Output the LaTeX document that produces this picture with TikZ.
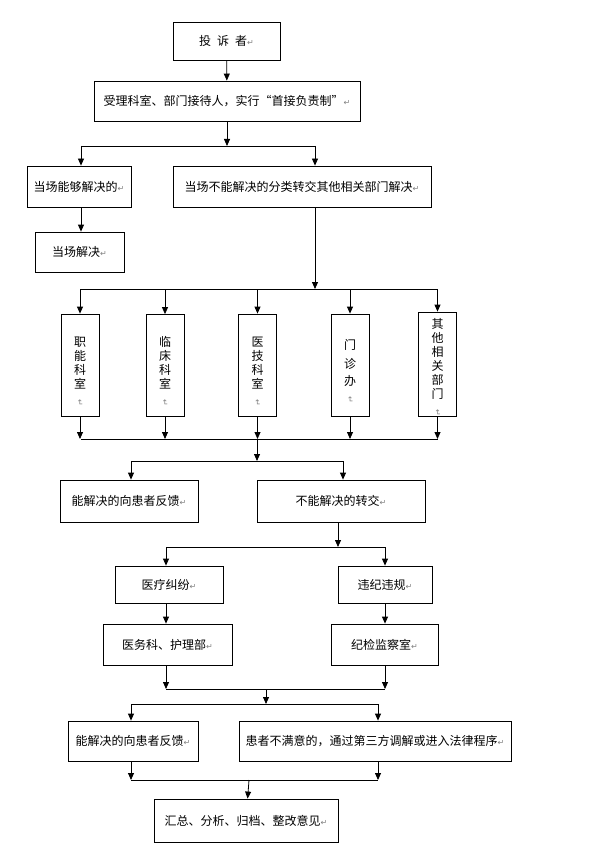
\documentclass[tikz,border=0pt]{standalone}
\usepackage{fontspec}
\usepackage{graphicx}
\usepackage{tikz}
\usetikzlibrary{arrows.meta,positioning}
\setmainfont{Noto Sans CJK SC}
\newfontfamily\symfont{DejaVu Sans}
\newcommand{\parmark}{{\symfont\fontsize{8}{8}\selectfont\textcolor{gray}{↵}}}
\newcommand{\vparmark}{\rotatebox{-90}{\parmark}}
\newcommand{\vstrut}{\rule{0pt}{22pt}}

\begin{document}
\begin{tikzpicture}[
    x=1pt, y=-1pt,
    font=\fontsize{12}{14}\selectfont,
    box/.style={draw, line width=0.8pt, inner sep=0pt, align=center},
    vbox/.style={box, minimum width=38pt, minimum height=102pt},
    line/.style={line width=0.8pt},
    arrow/.style={line width=0.8pt, -{Triangle[width=6pt,length=7pt]}}
  ]
  \useasboundingbox (0,0) rectangle (599,850);

  % Top
  \node[box, minimum width=107pt, minimum height=38pt] (complainant) at (226.5,41) {投\hspace{6pt}诉\hspace{6pt}者\parmark};
  \node[box, minimum width=266pt, minimum height=40pt] (accept) at (227,101) {受理科室、部门接待人，实行“首接负责制”\parmark};

  % First split
  \node[box, minimum width=104pt, minimum height=41pt] (onsite) at (79,186.5) {当场能够解决的\parmark};
  \node[box, minimum width=258pt, minimum height=41pt] (transfer) at (302,186.5) {当场不能解决的分类转交其他相关部门解决\parmark};
  \node[box, minimum width=89pt, minimum height=40pt] (solved) at (79.5,252) {当场解决\parmark};

  % Departments
  \node[vbox] (dept1) at (80,365) {\vstrut 职\\能\\科\\室\\[-3pt]\vparmark};
  \node[vbox] (dept2) at (165,365.5) {\vstrut 临\\床\\科\\室\\[-3pt]\vparmark};
  \node[vbox] (dept3) at (257.5,365) {\vstrut 医\\技\\科\\室\\[-3pt]\vparmark};
  \node[vbox] (dept4) at (350,365) {\vstrut 门\\[5pt]诊\\[3pt]办\\[-3pt]\vparmark};
  \node[vbox, minimum height=104pt] (dept5) at (437.5,364) {\rule{0pt}{16pt}其\\他\\相\\关\\部\\门\\[-3pt]\vparmark};

  % Second split
  \node[box, minimum width=138pt, minimum height=42pt] (feedbackA) at (129,501) {能解决的向患者反馈\parmark};
  \node[box, minimum width=168pt, minimum height=42pt] (notsolved) at (341,501) {不能解决的转交\parmark};
  \node[box, minimum width=108pt, minimum height=37pt] (dispute) at (169,584.5) {医疗纠纷\parmark};
  \node[box, minimum width=94pt, minimum height=37pt] (violation) at (385,584.5) {违纪违规\parmark};
  \node[box, minimum width=129pt, minimum height=41pt] (medoffice) at (167.5,644.5) {医务科、护理部\parmark};
  \node[box, minimum width=107pt, minimum height=41pt] (inspect) at (384.5,644.5) {纪检监察室\parmark};

  % Bottom
  \node[box, minimum width=130pt, minimum height=40pt] (feedbackB) at (133,741) {能解决的向患者反馈\parmark};
  \node[box, minimum width=272pt, minimum height=40pt] (unsatisfied) at (375,741) {患者不满意的，通过第三方调解或进入法律程序\parmark};
  \node[box, minimum width=184pt, minimum height=43pt] (summary) at (246,820.5) {汇总、分析、归档、整改意见\parmark};

  % Junctions
  \coordinate (j1) at (227,146);  \coordinate (j1l) at (81,146);  \coordinate (j1r) at (315,146);
  \coordinate (j2) at (315,289);  \coordinate (j2l) at (81,289);  \coordinate (j2r) at (438,289);
  \coordinate (j3) at (257,439);  \coordinate (j3l) at (81,439);  \coordinate (j3r) at (438,439);
  \coordinate (j4) at (257,461);  \coordinate (j4l) at (131,461); \coordinate (j4r) at (343,461);
  \coordinate (j5) at (338,547);  \coordinate (j5l) at (166,547); \coordinate (j5r) at (385,547);
  \coordinate (j6) at (266,689);  \coordinate (j6l) at (166,689); \coordinate (j6r) at (385,689);
  \coordinate (j7) at (266,704);  \coordinate (j7l) at (131,704); \coordinate (j7r) at (378,704);
  \coordinate (j8) at (249,780);  \coordinate (j8l) at (131,780); \coordinate (j8r) at (378,780);

  % Connections
  \draw[arrow] (complainant) -- (accept);
  \draw[arrow] (accept) -- (j1);
  \draw[line] (j1l) -- (j1r);
  \draw[arrow] (j1l) -- (j1l |- onsite.north);
  \draw[arrow] (j1r) -- (j1r |- transfer.north);
  \draw[arrow] (j1l |- onsite.south) -- (j1l |- solved.north);

  \draw[arrow] (j2 |- transfer.south) -- (j2);
  \draw[line] (j2l) -- (j2r);
  \foreach \d in {dept1,dept2,dept3,dept4,dept5} {
    \draw[arrow] (\d.north |- j2) -- (\d.north);
    \draw[arrow] (\d.south) -- (\d.south |- j3);
  }
  \draw[line] (j3l) -- (j3r);
  \draw[arrow] (j3) -- (j4);
  \draw[line] (j4l) -- (j4r);
  \draw[arrow] (j4l) -- (j4l |- feedbackA.north);
  \draw[arrow] (j4r) -- (j4r |- notsolved.north);

  \draw[arrow] (j5 |- notsolved.south) -- (j5);
  \draw[line] (j5l) -- (j5r);
  \draw[arrow] (j5l) -- (j5l |- dispute.north);
  \draw[arrow] (j5r) -- (j5r |- violation.north);
  \draw[arrow] (j5l |- dispute.south) -- (j5l |- medoffice.north);
  \draw[arrow] (j5r |- violation.south) -- (j5r |- inspect.north);

  \draw[arrow] (j6l |- medoffice.south) -- (j6l);
  \draw[arrow] (j6r |- inspect.south) -- (j6r);
  \draw[line] (j6l) -- (j6r);
  \draw[arrow] (j6) -- (j7);
  \draw[line] (j7l) -- (j7r);
  \draw[arrow] (j7l) -- (j7l |- feedbackB.north);
  \draw[arrow] (j7r) -- (j7r |- unsatisfied.north);

  \draw[arrow] (j8l |- feedbackB.south) -- (j8l);
  \draw[arrow] (j8r |- unsatisfied.south) -- (j8r);
  \draw[line] (j8l) -- (j8r);
  \draw[arrow] (j8) -- (summary);
\end{tikzpicture}
\end{document}
